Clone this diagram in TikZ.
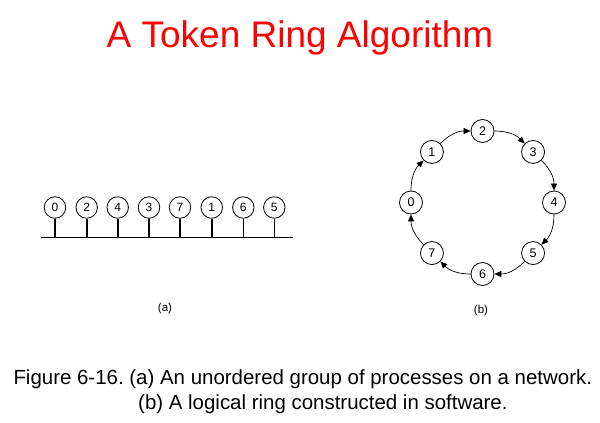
\documentclass[tikz,border=0pt]{standalone}
\usepackage{fontspec}
\setmainfont{Liberation Sans}
\usetikzlibrary{arrows.meta}
\begin{document}
\frenchspacing
\begin{tikzpicture}[x=1pt,y=-1pt,
  proc/.style={circle,draw,line width=0.8pt,minimum size=21.5pt,inner sep=0pt,font=\fontsize{12}{12}\selectfont},
  rproc/.style={proc,minimum size=23pt,font=\fontsize{12.5}{12}\selectfont},
  stem/.style={line width=1.6pt},
  ringarrow/.style={line width=0.7pt,-{Triangle[length=7pt,width=6pt]},bend left=22.5},
  lbl/.style={font=\fontsize{11.5}{12}\selectfont,anchor=base},
  captxt/.style={anchor=base west,inner sep=0pt,font=\fontsize{20.45}{22}\selectfont}]
\useasboundingbox (0,0) rectangle (600,423);
\node[anchor=base,text=red,font=\fontsize{37}{40}\selectfont] (title) at (300,47) {A Token Ring Algorithm};
% (a)
\coordinate (busL) at (40.5,237.5);
\coordinate (busR) at (293,237.5);
\draw[line width=1.8pt] (busL) -- (busR);
\foreach \n/\x [count=\i] in {0/55,2/86.7,4/117.7,3/149,7/180,1/211.7,6/243.3,5/274.3}{
  \node[proc] (a\i) at (\x,207.5) {\n};
  \coordinate (s\i) at (\x,237.5);
  \draw[stem] (a\i.south) -- (s\i);
}
\node[lbl] (la) at (165,311) {(a)};
% (b)
\foreach \n/\ang in {0/180,1/135,2/90,3/45,4/0,5/-45,6/-90,7/-135}{
  \node[rproc] (b\n) at ({482.5+71.5*cos(\ang)},{202.5-71.5*sin(\ang)}) {\n};
}
\foreach \p/\q in {0/1,1/2,2/3,3/4,4/5,5/6,6/7,7/0}{
  \draw[ringarrow] (b\p) to (b\q);
}
\node[lbl] (lb) at (481,313) {(b)};
% caption
\node[captxt] (cap1) at (13.3,384) {Figure 6-16. (a) An unordered group of processes on a network.};
\node[captxt] (cap2) at (138,409) {(b) A logical ring constructed in software.};
\end{tikzpicture}
\end{document}
